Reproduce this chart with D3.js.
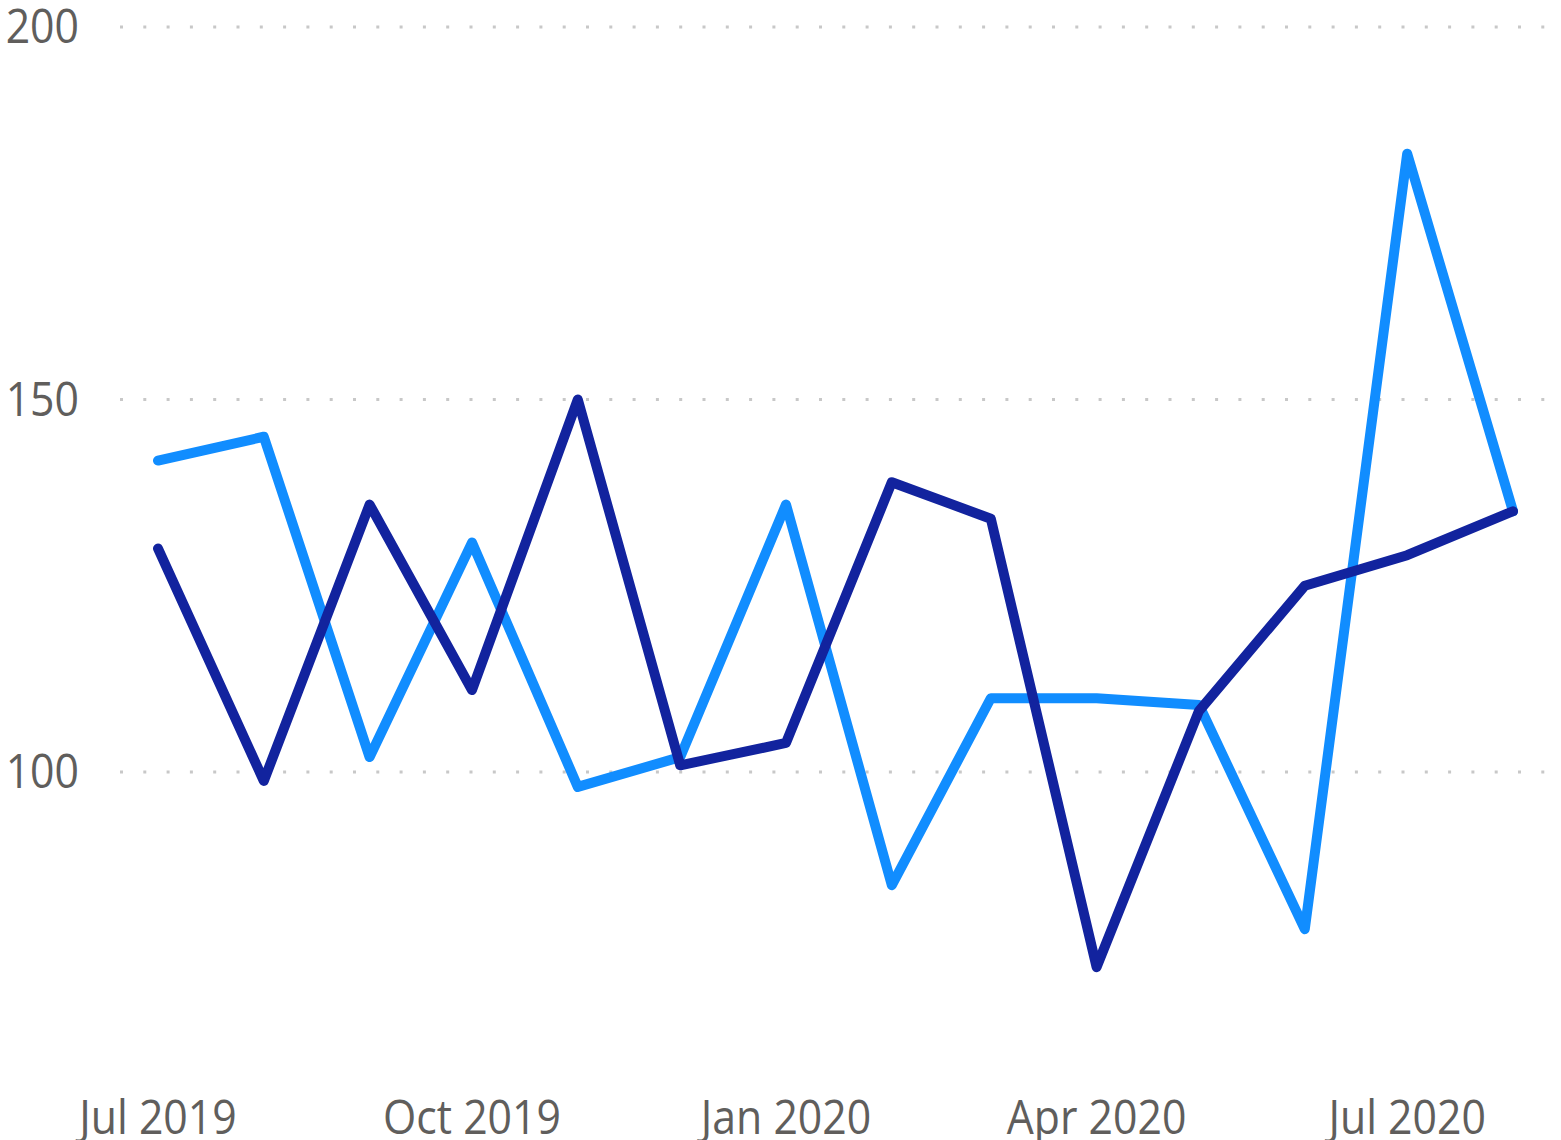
<!DOCTYPE html>
<html><head><meta charset="utf-8">
<script src="https://cdn.jsdelivr.net/npm/d3@7"></script>
<style>html,body{margin:0;padding:0;background:#fff;}svg{display:block;}</style>
</head><body>
<script>
const months = ["2019-07","2019-08","2019-09","2019-10","2019-11","2019-12","2020-01","2020-02","2020-03","2020-04","2020-05","2020-06","2020-07","2020-08"];
const seriesLight = [141.8,145.0,102.0,130.8,98.0,102.0,135.9,84.8,109.9,109.9,109.0,78.9,183.0,135.0];
const seriesDark = [130.0,98.8,135.9,111.0,150.0,100.9,103.9,138.9,134.0,73.8,108.2,125.0,129.1,135.0];
const yTicks = [100,150,200];
const xTicks = ["2019-07","2019-10","2020-01","2020-04","2020-07"];
const xTickLabels = ["Jul 2019","Oct 2019","Jan 2020","Apr 2020","Jul 2020"];

const W = 1561, H = 1140;
const parse = d3.timeParse("%Y-%m");
const dates = months.map(parse);
const svg = d3.select("body").append("svg").attr("width", W).attr("height", H);

const x = d3.scaleTime().domain(d3.extent(dates)).range([158, 1513]);
const y = d3.scaleLinear().domain([100, 200]).range([772, 27]);

const font = "'Open Sans', 'Segoe UI', sans-serif";
const sx = 0.91;

// gridlines (dotted)
svg.append("g").selectAll("line").data(yTicks).join("line")
  .attr("x1", 120).attr("x2", 1548)
  .attr("y1", d => y(d)).attr("y2", d => y(d))
  .attr("stroke", "#C8C8C8").attr("stroke-width", 3)
  .attr("stroke-dasharray", "3,20.3");

// y labels
svg.append("g").selectAll("text").data(yTicks).join("text")
  .attr("transform", d => `translate(79,${y(d) + 16}) scale(${sx},1)`)
  .attr("text-anchor", "end")
  .attr("font-family", font).attr("font-size", 47)
  .attr("fill", "#605E5C")
  .text(d => d);

// x labels
svg.append("g").selectAll("text").data(xTicks).join("text")
  .attr("transform", d => `translate(${x(parse(d))},1134) scale(${sx},1)`)
  .attr("text-anchor", "middle")
  .attr("font-family", font).attr("font-size", 47)
  .attr("fill", "#605E5C")
  .text((d, i) => xTickLabels[i]);

const line = d3.line().x((d, i) => x(dates[i])).y(d => y(d));

svg.append("path").datum(seriesLight).attr("d", line)
  .attr("fill", "none").attr("stroke", "#118DFF").attr("stroke-width", 10)
  .attr("stroke-linecap", "round").attr("stroke-linejoin", "round");
svg.append("path").datum(seriesDark).attr("d", line)
  .attr("fill", "none").attr("stroke", "#12239E").attr("stroke-width", 10)
  .attr("stroke-linecap", "round").attr("stroke-linejoin", "round");
</script>
</body></html>
